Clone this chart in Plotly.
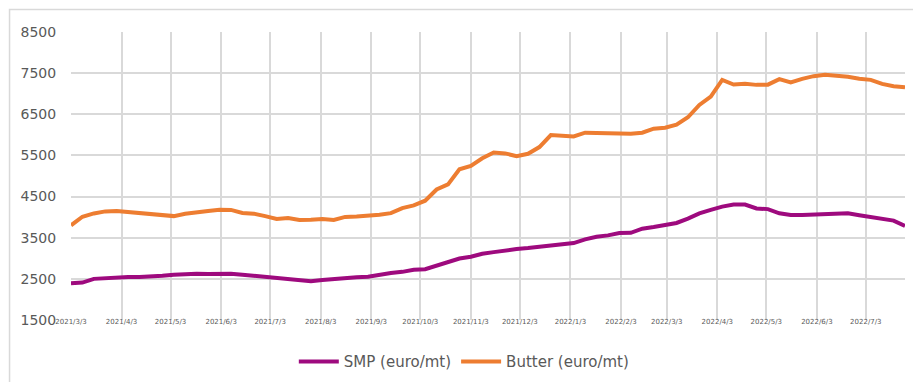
import pandas as pd
import plotly.graph_objects as go

# Weekly dates (every 7 days from 2021/3/3)
start_date = "2021-03-03"
n_weeks = 74
dates = pd.date_range(start_date, periods=n_weeks, freq="7D")

smp = [2395, 2410, 2500, 2520, 2535, 2545, 2545, 2550, 2575, 2600,
       2620, 2625, 2620, 2620, 2625, 2600, 2575, 2550, 2525, 2485,
       2460, 2445, 2475, 2500, 2510, 2540, 2550, 2605, 2640, 2670,
       2720, 2735, 2817, 2900, 2995, 3037, 3110, 3150, 3199, 3224,
       3248, 3280, 3321, 3345, 3370, 3459, 3524, 3557, 3614, 3618,
       3720, 3760, 3800, 3858, 3963, 4093, 4175, 4256, 4305, 4305,
       4210, 4195, 4093, 4053, 4053, 4069, 4085, 4093, 4093, 4045,
       4004, 3963, 3915, 3785]

butter = [3800, 4010, 4090, 4140, 4150, 4125, 4115, 4075, 4050, 4025,
          4080, 4105, 4150, 4180, 4175, 4100, 4085, 4025, 3955, 3980,
          3930, 3935, 3955, 3930, 4005, 4016, 4033, 4057, 4098, 4221,
          4287, 4400, 4672, 4795, 5164, 5246, 5430, 5573, 5549, 5484,
          5540, 5703, 5996, 5980, 5963, 6053, 6045, 6020, 6020, 6028,
          6053, 6150, 6175, 6248, 6427, 6728, 6931, 7337, 7224, 7240,
          7215, 7220, 7354, 7272, 7362, 7427, 7459, 7443, 7410, 7362,
          7337, 7240, 7183, 7159]

tick_dates = ["2021-03-03", "2021-04-03", "2021-05-03", "2021-06-03", "2021-07-03",
              "2021-08-03", "2021-09-03", "2021-10-03", "2021-11-03", "2021-12-03",
              "2022-01-03", "2022-02-03", "2022-03-03", "2022-04-03", "2022-05-03",
              "2022-06-03", "2022-07-03"]
tick_labels = ["2021/3/3", "2021/4/3", "2021/5/3", "2021/6/3", "2021/7/3",
               "2021/8/3", "2021/9/3", "2021/10/3", "2021/11/3", "2021/12/3",
               "2022/1/3", "2022/2/3", "2022/3/3", "2022/4/3", "2022/5/3",
               "2022/6/3", "2022/7/3"]
y_ticks = [1500, 2500, 3500, 4500, 5500, 6500, 7500, 8500]

SMP_COLOR = "#9E0A7E"
BUTTER_COLOR = "#ED7D31"
GRID = "#D9D9D9"
TXT = "#595959"
FONT = "DejaVu Sans, sans-serif"

fig = go.Figure()
fig.add_trace(go.Scatter(x=dates, y=smp, mode="lines", name="SMP (euro/mt)",
                         line=dict(color=SMP_COLOR, width=4)))
fig.add_trace(go.Scatter(x=dates, y=butter, mode="lines", name="Butter (euro/mt)",
                         line=dict(color=BUTTER_COLOR, width=4)))

fig.update_layout(
    width=921, height=382,
    margin=dict(l=63, r=24, t=24, b=70),
    paper_bgcolor="white", plot_bgcolor="white",
    font=dict(family=FONT, color=TXT),
    showlegend=True,
    legend=dict(orientation="h", x=0.4716, xanchor="center", y=-0.145, yanchor="middle",
                font=dict(size=15, color=TXT, family=FONT), itemwidth=40),
    xaxis=dict(
        type="date",
        range=[dates[0], dates[-1]],
        tickmode="array", tickvals=tick_dates, ticktext=tick_labels,
        tickfont=dict(size=7, color=TXT, family=FONT),
        showgrid=True, gridcolor=GRID, gridwidth=1.5,
        showline=False, zeroline=False,
        ticks="", ticklabelstandoff=-4,
    ),
    yaxis=dict(
        range=[1500, 8500],
        tickmode="array", tickvals=y_ticks,
        tickfont=dict(size=14, color=TXT, family=FONT),
        showgrid=True, gridcolor=GRID, gridwidth=1.5,
        showline=False, zeroline=False,
        ticks="outside", ticklen=11, tickcolor="rgba(0,0,0,0)",
    ),
    shapes=[dict(type="rect", xref="paper", yref="paper",
                 x0=-0.0737, x1=1.0252, y0=-0.2348, y1=1.078,
                 line=dict(color=GRID, width=1.5), fillcolor="rgba(0,0,0,0)",
                 layer="below")],
)

fig.write_html("out.html")
